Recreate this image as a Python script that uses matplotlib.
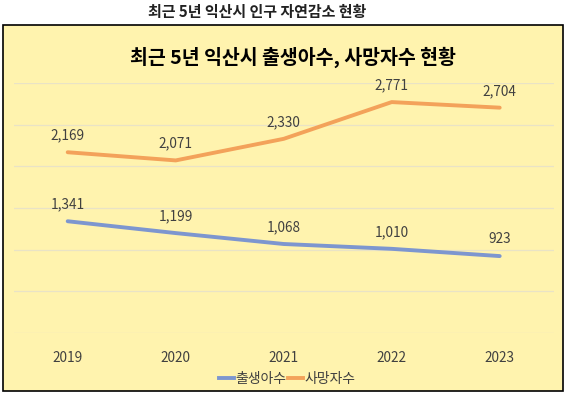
import matplotlib
matplotlib.use("Agg")
import matplotlib.pyplot as plt
from matplotlib.patches import Rectangle
from matplotlib.lines import Line2D

# 데이터
years = ["2019", "2020", "2021", "2022", "2023"]
births = [1341, 1199, 1068, 1010, 923]
deaths = [2169, 2071, 2330, 2771, 2704]
series_names = ["출생아수", "사망자수"]

plt.rcParams["font.family"] = ["Noto Sans CJK KR", "DejaVu Sans"]

BLUE = "#7D96CF"
ORANGE = "#F3A25A"
BG = "#FFF3AE"
TXT = "#404040"

W, H = 576, 396
fig = plt.figure(figsize=(W / 100, H / 100), dpi=100)

fig.add_artist(Rectangle((3 / W, 5 / H), 560 / W, 366 / H, transform=fig.transFigure,
                         facecolor=BG, edgecolor="black", lw=1.2, zorder=0))

fig.text(257 / W, 1 - 12 / H, "최근 5년 익산시 인구 자연감소 현황", ha="center", va="center",
         fontsize=10.8, fontweight="bold", color="#222222")
fig.text(293 / W, 1 - 57 / H, "최근 5년 익산시 출생아수, 사망자수 현황", ha="center", va="center",
         fontsize=14, fontweight="bold", color="black")

ax = fig.add_axes([13.7 / W, 63 / H, 540 / W, 250 / H])
ax.set_facecolor("none")
ax.set_xlim(-0.5, 4.5)
ax.set_ylim(0, 3000)
ax.set_yticks(range(0, 3001, 500))
ax.set_yticklabels([])
ax.grid(axis="y", color="#E9E3C6", lw=0.9)
ax.set_axisbelow(True)
for s in ax.spines.values():
    s.set_visible(False)
x = list(range(len(years)))
ax.set_xticks(x)
ax.set_xticklabels(years)
ax.tick_params(axis="x", length=0, pad=13, labelsize=9.8, labelcolor=TXT)
ax.tick_params(axis="y", length=0)

for vals, col in [(births, BLUE), (deaths, ORANGE)]:
    ax.plot(x, vals, color=col, lw=2.8, solid_capstyle="round", solid_joinstyle="round", zorder=3)
    for i, v in zip(x, vals):
        ax.annotate(f"{v:,}", (i, v), xytext=(0, 12), textcoords="offset points",
                    ha="center", va="center", fontsize=9.8, color=TXT)

handles = [Line2D([], [], color=BLUE, lw=2.8), Line2D([], [], color=ORANGE, lw=2.8)]
fig.legend(handles, series_names, loc="center", bbox_to_anchor=(287.5 / W, 1 - 379 / H),
           ncol=2, frameon=False, fontsize=10, handlelength=1.1, handletextpad=0.1,
           columnspacing=0.1, labelcolor=TXT)

fig.savefig("out.png", dpi=100)
